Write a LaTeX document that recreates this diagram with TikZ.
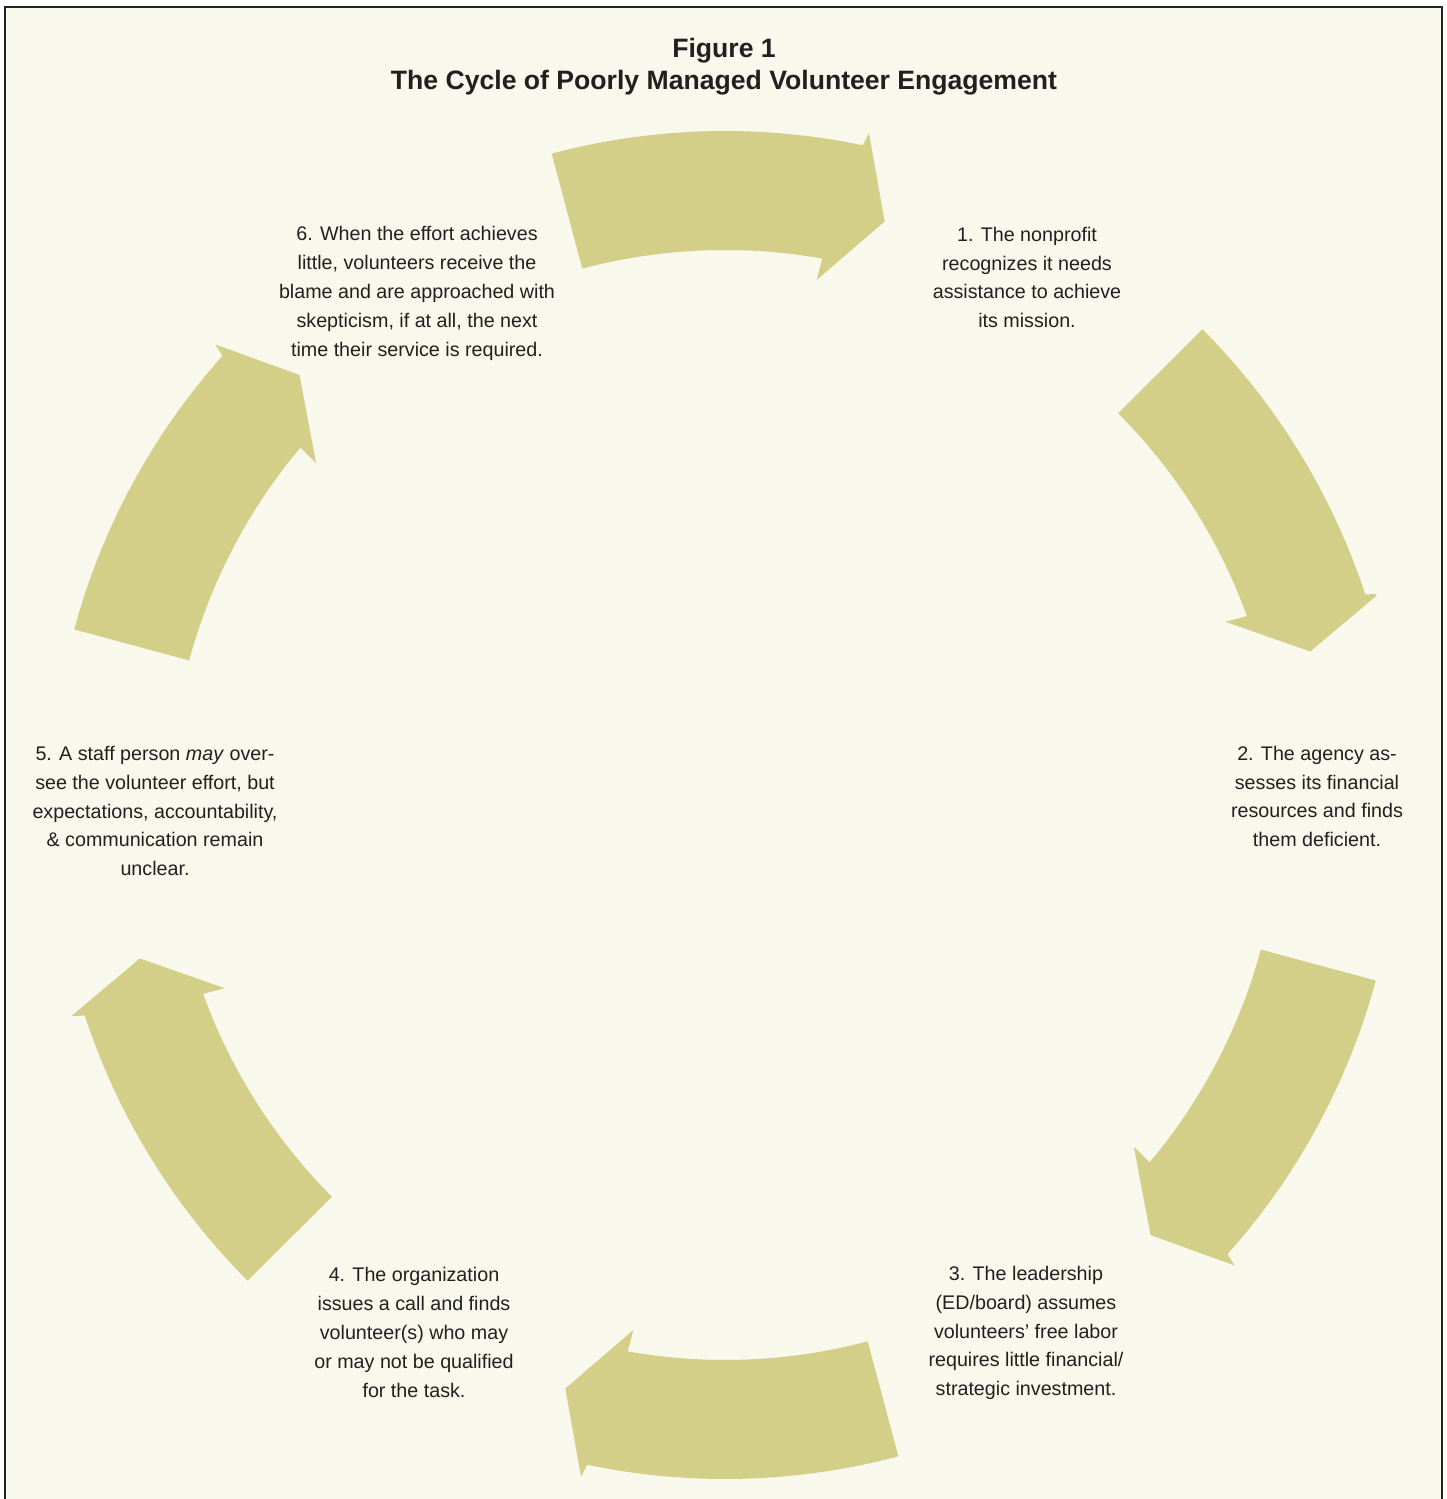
\documentclass[tikz,border=0pt]{standalone}
\usepackage{fontspec}
\setmainfont{Liberation Sans}
\definecolor{creambg}{RGB}{248,248,236}
\definecolor{arrowolive}{RGB}{211,207,137}
\definecolor{inkgray}{RGB}{35,31,32}
\definecolor{framegray}{RGB}{35,35,35}
\tikzset{
  steptext/.style={align=center, text=inkgray, inner sep=0pt,
    font=\fontsize{19.7}{28.8}\selectfont},
  titletext/.style={align=center, text=inkgray, inner sep=0pt,
    font=\fontsize{26.6}{32}\selectfont\bfseries},
  arrowshape/.style={fill=arrowolive},
  framestyle/.style={draw=framegray, line width=2.8},
}
\begin{document}
\begin{tikzpicture}[x=1pt,y=1pt]
\useasboundingbox (0,0) rectangle (1447,1499);
\fill[white] (0,0) rectangle (1447,1499);
\fill[creambg] (5,-10) rectangle (1442,1492);
\draw[framestyle] (5,-10) -- (5,1492) -- (1442,1492) -- (1442,-10);

% title
\node[titletext] (title) at (724,1432) {Figure 1\\The Cycle of Poorly Managed Volunteer Engagement};

% cycle arrows
\begin{scope}
\clip (0,0) rectangle (1376,1499);
\begin{scope}[shift={(725,694)}]
\foreach \k in {0,...,5}{
  \pgfmathsetmacro\ta{104.9-60*\k}
  \pgfmathsetmacro\tb{78.2-60*\k}
  \pgfmathsetmacro\tc{77.9-60*\k}
  \pgfmathsetmacro\td{74.7-60*\k}
  \pgfmathsetmacro\te{80.1-60*\k}
  \pgfmathsetmacro\tf{79.9-60*\k}
  \fill[arrowshape] (\ta:674) arc[start angle=\ta, end angle=\tb, radius=674]
    -- (\tc:687) -- (\td:605) -- (\te:533) -- (\tf:555)
    arc[start angle=\tf, end angle=\ta, radius=555] -- cycle;
}
\end{scope}
\end{scope}

% step texts
\node[steptext] (s1) at (1027,1221.5) {1. The nonprofit\\recognizes it needs\\assistance to achieve\\its mission.};
\node[steptext] (s2) at (1317,702.5) {2. The agency as-\\sesses its financial\\resources and finds\\them deficient.};
\node[steptext] (s3) at (1026,166) {3. The leadership\\(ED/board) assumes\\volunteers’ free labor\\requires little financial/\\strategic investment.};
\node[steptext] (s4) at (414,166.5) {4. The organization\\issues a call and finds\\volunteer(s) who may\\or may not be qualified\\for the task.};
\node[steptext] (s5) at (155,688) {5. A staff person \textit{may} over-\\see the volunteer effort, but\\expectations, accountability,\\\& communication remain\\unclear.};
\node[steptext] (s6) at (417,1205.5) {6. When the effort achieves\\little, volunteers receive the\\blame and are approached with\\skepticism, if at all, the next\\time their service is required.};
\end{tikzpicture}
\end{document}
